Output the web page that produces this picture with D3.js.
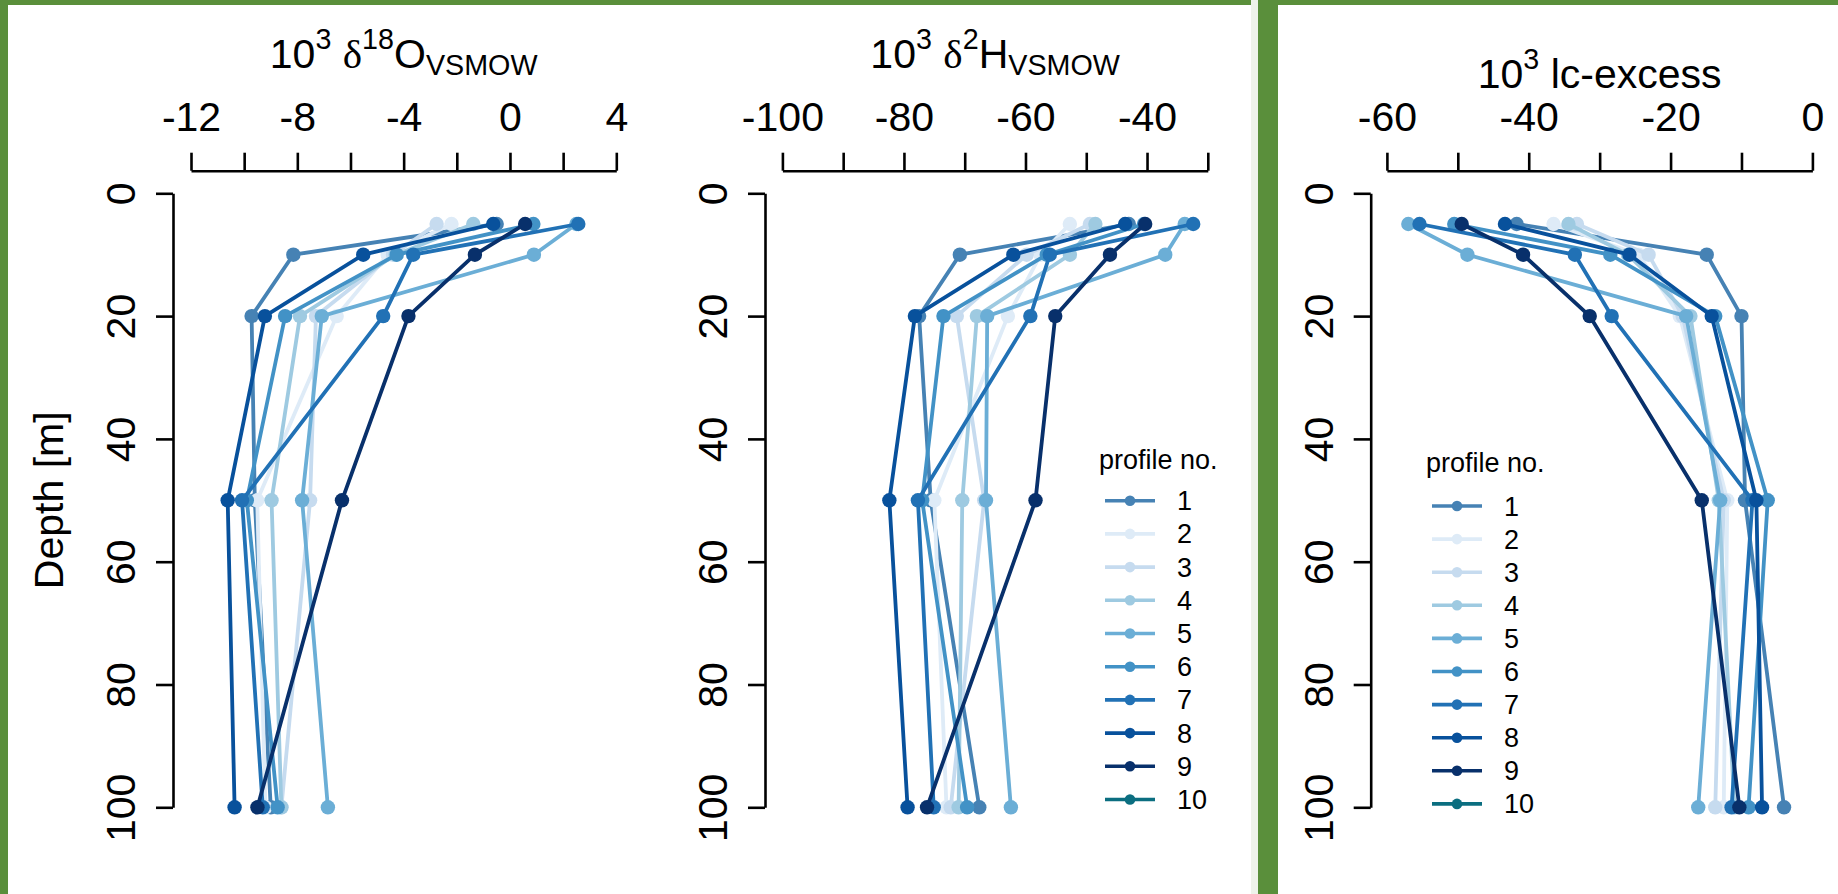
<!DOCTYPE html>
<html>
<head>
<meta charset="utf-8">
<script src="https://cdn.jsdelivr.net/npm/d3@7"></script>
<style>
  html, body { margin: 0; padding: 0; background: #fff; }
  svg { display: block; }
  text { font-family: "Liberation Sans", Arial, Helvetica, sans-serif; fill: #000; }
  .greek { font-family: "Liberation Serif", "Times New Roman", serif; }
</style>
</head>
<body>
<svg id="chart" width="1838" height="894"></svg>
<script>
// Sampling depths (m) shared by every profile
const depths = [5, 10, 20, 50, 100];

// Profile numbers and their colours
const profiles = ["1", "2", "3", "4", "5", "6", "7", "8", "9", "10"];
const profileColors = ["#4682b4", "#deebf7", "#c6dbef", "#9ecae1", "#6baed6",
                       "#4292c6", "#2171b5", "#08519c", "#08306b", "#0b6e80"];

// 10^3 delta-18O (VSMOW), one row per profile, values at the depths above
const d18O = [
  [-0.5, -8.15, -9.72, -9.6, -9.0],
  [-2.2, -4.6, -6.52, -9.51, -9.2],
  [-2.76, -4.4, -7.3, -7.52, -8.6],
  [-1.38, -4.3, -7.9, -8.97, -8.6],
  [2.5, 0.9, -7.08, -7.82, -6.85],
  [0.88, -4.26, -8.46, -9.9, -8.74],
  [2.57, -3.64, -4.77, -10.08, -9.3],
  [-0.63, -5.52, -9.22, -10.62, -10.36],
  [0.57, -1.32, -3.82, -6.32, -9.5]
];

// 10^3 delta-2H (VSMOW)
const d2H = [
  [-43.0, -70.8, -77.5, -75.6, -67.6],
  [-52.7, -57.5, -62.9, -75.0, -73.0],
  [-49.4, -59.8, -71.3, -66.8, -72.3],
  [-48.5, -52.7, -68.0, -70.4, -71.0],
  [-33.8, -37.0, -66.3, -66.5, -62.4],
  [-40.5, -56.5, -73.5, -77.0, -69.6],
  [-32.4, -56.0, -59.2, -77.7, -75.1],
  [-43.6, -62.0, -78.2, -82.4, -79.4],
  [-40.3, -46.1, -55.1, -58.35, -76.2]
];

// 10^3 lc-excess
const lcExcess = [
  [-41.7, -14.9, -10.0, -9.5, -4.0],
  [-36.5, -24.5, -18.7, -12.0, -12.5],
  [-33.2, -23.1, -18.3, -12.5, -13.7],
  [-34.4, -26.0, -17.2, -13.2, -11.0],
  [-56.98, -48.65, -17.8, -13.0, -16.1],
  [-50.5, -28.5, -13.7, -6.3, -9.0],
  [-55.4, -33.5, -28.3, -8.45, -11.4],
  [-43.35, -25.8, -14.2, -7.9, -7.1],
  [-49.45, -40.8, -31.4, -15.6, -10.3]
];

// Axis ticks and labels
const d18OTicks = [-12, -10, -8, -6, -4, -2, 0, 2, 4];
const d18OLabels = [-12, -8, -4, 0, 4];
const d2HTicks = [-100, -90, -80, -70, -60, -50, -40, -30];
const d2HLabels = [-100, -80, -60, -40];
const lcTicks = [-60, -50, -40, -30, -20, -10, 0];
const lcLabels = [-60, -40, -20, 0];
const depthTicks = [0, 20, 40, 60, 80, 100];

// ---- layout ----
const FS = 41;          // main font size
const SUB = 0.7 * FS;   // sub/superscript size
const LW = 3.8;         // profile line width
const PR = 7.2;         // point radius
const svg = d3.select("#chart");

// background frame
svg.append("rect").attr("x", 0).attr("y", 0).attr("width", 1838).attr("height", 894).attr("fill", "#fff");
const green = "#5a8f3b";
svg.append("rect").attr("x", 0).attr("y", 0).attr("width", 1838).attr("height", 5).attr("fill", green);
svg.append("rect").attr("x", 0).attr("y", 0).attr("width", 8).attr("height", 894).attr("fill", green);
svg.append("rect").attr("x", 1251).attr("y", 0).attr("width", 7).attr("height", 894).attr("fill", "#eef3ea");
svg.append("rect").attr("x", 1258).attr("y", 0).attr("width", 20).attr("height", 894).attr("fill", green);

const y = d3.scaleLinear().domain([0, 100]).range([193.3, 807.3]);

// title parts: [text, kind] with kind 0 = normal, 1 = superscript, -1 = subscript, 2 = greek
const panels = [
  { values: d18O, ticks: d18OTicks, labels: d18OLabels, domain: [-12, 4], range: [191, 616.3],
    yAxisX: 173, titleY: 68.3,
    title: [["10", 0], ["3", 1], ["\u00a0", 0], ["\u03b4", 2], ["18", 1], ["O", 0], ["VSMOW", -1]] },
  { values: d2H, ticks: d2HTicks, labels: d2HLabels, domain: [-100, -30], range: [782.4, 1207.8],
    yAxisX: 765, titleY: 68.3,
    title: [["10", 0], ["3", 1], ["\u00a0", 0], ["\u03b4", 2], ["2", 1], ["H", 0], ["VSMOW", -1]],
    legend: { x: 1105, titleX: 1099, titleY: 469, y0: 500.7, dy: 33.2 } },
  { values: lcExcess, ticks: lcTicks, labels: lcLabels, domain: [-60, 0], range: [1386.9, 1812.4],
    yAxisX: 1370.7, titleY: 88.3,
    title: [["10", 0], ["3", 1], ["\u00a0lc-excess", 0]],
    legend: { x: 1432, titleX: 1426, titleY: 471.7, y0: 506, dy: 33.1 } }
];

const axisY = 170.7;

panels.forEach((p) => {
  const x = d3.scaleLinear().domain(p.domain).range(p.range);
  const g = svg.append("g");

  // top value axis
  const xa = g.append("g").attr("transform", `translate(0,${axisY})`)
    .call(d3.axisTop(x).tickValues(p.ticks).tickSize(18).tickSizeOuter(0).tickPadding(22)
      .tickFormat(d => p.labels.includes(d) ? String(d) : ""));
  xa.select(".domain").attr("stroke", "#000").attr("stroke-width", 2.6);
  xa.selectAll(".tick line").attr("stroke", "#000").attr("stroke-width", 2.6);
  xa.selectAll(".tick text").attr("font-size", FS).attr("font-family", null).attr("fill", "#000");

  // depth axis
  const ya = g.append("g").attr("transform", `translate(${p.yAxisX},0)`)
    .call(d3.axisLeft(y).tickValues(depthTicks).tickSize(17).tickSizeOuter(0).tickFormat(d => String(d)));
  ya.select(".domain").attr("stroke", "#000").attr("stroke-width", 2.6);
  ya.selectAll(".tick line").attr("stroke", "#000").attr("stroke-width", 2.6);
  ya.selectAll(".tick text")
    .attr("font-size", FS).attr("font-family", null).attr("fill", "#000")
    .attr("x", null).attr("y", null).attr("dy", null)
    .attr("text-anchor", "middle")
    .attr("transform", "translate(-38,0) rotate(-90)");

  // axis title with super/subscripts
  const t = g.append("text").attr("x", (p.range[0] + p.range[1]) / 2).attr("y", p.titleY)
    .attr("text-anchor", "middle").attr("font-size", FS);
  let shift = 0;
  p.title.forEach(([s, kind]) => {
    const target = kind === 1 ? -19 : (kind === -1 ? 6.7 : 0);
    const ts = t.append("tspan").attr("dy", target - shift)
      .attr("font-size", (kind === 1 || kind === -1) ? SUB : FS).text(s);
    if (kind === 2) ts.attr("class", "greek");
    shift = target;
  });

  // profile lines and points, profile 1 drawn first
  const line = d3.line().x(d => x(d[0])).y(d => y(d[1]));
  p.values.forEach((vals, i) => {
    const pts = vals.map((v, k) => [v, depths[k]]);
    g.append("path").datum(pts).attr("d", line)
      .attr("fill", "none").attr("stroke", profileColors[i]).attr("stroke-width", LW)
      .attr("stroke-linejoin", "round");
    g.selectAll(null).data(pts).join("circle")
      .attr("cx", d => x(d[0])).attr("cy", d => y(d[1])).attr("r", PR)
      .attr("fill", profileColors[i]);
  });

  // legend
  if (p.legend) {
    const L = p.legend;
    g.append("text").attr("x", L.titleX).attr("y", L.titleY).attr("font-size", 27).text("profile no.");
    profiles.forEach((name, i) => {
      const yy = L.y0 + i * L.dy;
      g.append("line").attr("x1", L.x).attr("x2", L.x + 50).attr("y1", yy).attr("y2", yy)
        .attr("stroke", profileColors[i]).attr("stroke-width", 3.6);
      g.append("circle").attr("cx", L.x + 25).attr("cy", yy).attr("r", 5.3).attr("fill", profileColors[i]);
      g.append("text").attr("x", L.x + 72).attr("y", yy + 9.5).attr("font-size", 27).text(name);
    });
  }
});

// shared depth label
svg.append("text").attr("transform", `translate(63,${y(50)}) rotate(-90)`)
  .attr("text-anchor", "middle").attr("font-size", FS).text("Depth [m]");
</script>
</body>
</html>
